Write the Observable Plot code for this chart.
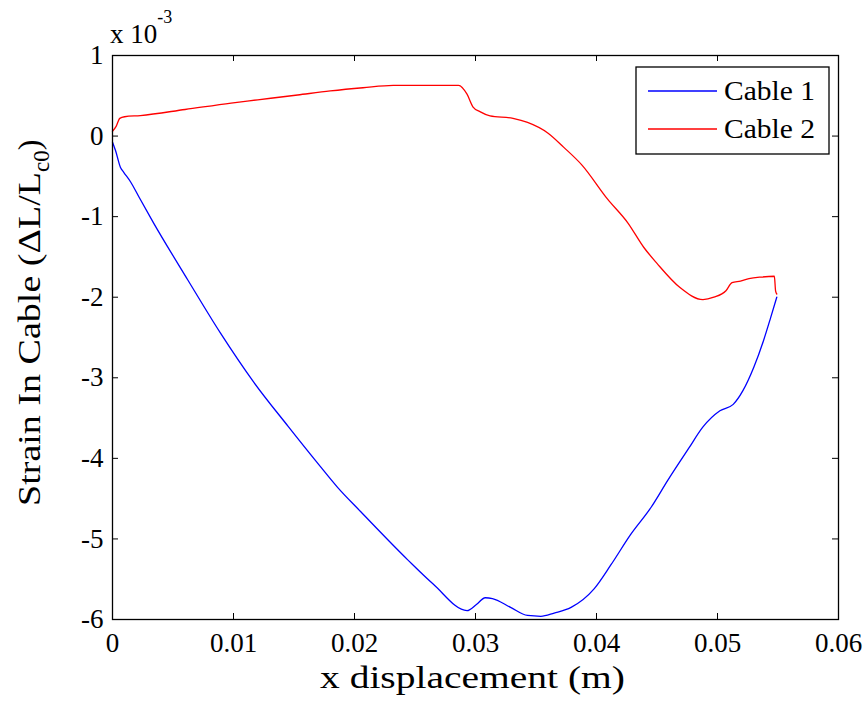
<!DOCTYPE html>
<html>
<head>
<meta charset="utf-8">
<script src="https://cdn.jsdelivr.net/npm/d3@7"></script>
<script src="https://cdn.jsdelivr.net/npm/@observablehq/plot@0.6"></script>
<style>
  html, body { margin: 0; padding: 0; background: #fff; }
  #chart { width: 867px; height: 703px; }
</style>
</head>
<body>
<div id="chart"></div>
<script>
// ---- data (x in m, strain in units of 1e-3) ----
const cable1X = [0, 0.00025, 0.00066, 0.00093, 0.0015, 0.0022, 0.0034, 0.0062, 0.0089, 0.0117, 0.0145, 0.0169, 0.0186, 0.0205, 0.0244, 0.0265, 0.0293, 0.0301, 0.0308, 0.0314, 0.0329, 0.0343, 0.0354, 0.0365, 0.0379, 0.0398, 0.0412, 0.0428, 0.0445, 0.0459, 0.0476, 0.0488, 0.0502, 0.0513, 0.0521, 0.0530, 0.0538, 0.0544, 0.0549];
const cable1Y = [-0.075, -0.18, -0.39, -0.45, -0.57, -0.76, -1.08, -1.78, -2.44, -3.06, -3.60, -4.05, -4.36, -4.66, -5.26, -5.56, -5.89, -5.81, -5.73, -5.74, -5.85, -5.95, -5.96, -5.92, -5.85, -5.62, -5.32, -4.95, -4.61, -4.27, -3.88, -3.61, -3.41, -3.33, -3.16, -2.87, -2.54, -2.25, -2.00];

const cable2X = [0, 0.0003, 0.0006, 0.0010, 0.0023, 0.0060, 0.0098, 0.0120, 0.0153, 0.0180, 0.0207, 0.0232, 0.0286, 0.0293, 0.0298, 0.0304, 0.0312, 0.0331, 0.0343, 0.0360, 0.0373, 0.0388, 0.0409, 0.0426, 0.0439, 0.0450, 0.0469, 0.0488, 0.0497, 0.0507, 0.0512, 0.0519, 0.0526, 0.0536, 0.0547, 0.0548, 0.0549];
const cable2Y = [0.06, 0.12, 0.22, 0.24, 0.255, 0.33, 0.41, 0.45, 0.51, 0.56, 0.60, 0.63, 0.63, 0.52, 0.36, 0.30, 0.25, 0.22, 0.17, 0.036, -0.14, -0.36, -0.78, -1.08, -1.38, -1.58, -1.88, -2.03, -2.00, -1.92, -1.82, -1.80, -1.77, -1.75, -1.74, -1.92, -1.96];

const seriesNames = ["Cable 1", "Cable 2"];
const seriesColors = ["#0000ff", "#ff0000"];

const xTicks = [0, 0.01, 0.02, 0.03, 0.04, 0.05, 0.06];
const xTickLabels = ["0", "0.01", "0.02", "0.03", "0.04", "0.05", "0.06"];
const yTicks = [1, 0, -1, -2, -3, -4, -5, -6];
const yTickLabels = ["1", "0", "-1", "-2", "-3", "-4", "-5", "-6"];

const xLabel = "x displacement (m)";
const yLabelMain = "Strain In Cable (\u0394L/L";
const yLabelSub = "c0";
const yLabelEnd = ")";
const exponentBase = "x 10";
const exponentSup = "-3";

// ---- build table ----
const rows = [];
cable1X.forEach((x, i) => rows.push({series: seriesNames[0], x, y: cable1Y[i]}));
cable2X.forEach((x, i) => rows.push({series: seriesNames[1], x, y: cable2Y[i]}));

const W = 867, H = 703;
const mL = 112, mR = 29, mT = 55, mB = 84;
const xDom = [0, 0.06], yDom = [-6, 1];
const tickPx = 6;
const xLen = tickPx * (xDom[1] - xDom[0]) / (W - mL - mR);
const yLen = tickPx * (yDom[1] - yDom[0]) / (H - mT - mB);

const font = "'Liberation Serif', 'Times New Roman', serif";

const svg = Plot.plot({
  width: W, height: H,
  marginLeft: mL, marginRight: mR, marginTop: mT, marginBottom: mB,
  style: {fontFamily: font, fontSize: "27px", color: "#000", background: "#fff"},
  x: {domain: xDom, label: null},
  y: {domain: yDom, label: null},
  color: {domain: seriesNames, range: seriesColors},
  marks: [
    Plot.axisX({ticks: xTicks, tickFormat: (d) => xTickLabels[xTicks.indexOf(d)], tickSize: 0, tickPadding: 13, fontSize: 27, label: null}),
    Plot.axisY({ticks: yTicks, tickFormat: (d) => yTickLabels[yTicks.indexOf(d)], tickSize: 0, tickPadding: 9, fontSize: 27, label: null}),
    // inward tick marks on all four sides
    Plot.ruleX(xTicks, {x: d => d, y1: yDom[0], y2: yDom[0] + yLen, stroke: "#000", strokeWidth: 1}),
    Plot.ruleX(xTicks, {x: d => d, y1: yDom[1], y2: yDom[1] - yLen, stroke: "#000", strokeWidth: 1}),
    Plot.ruleY(yTicks, {y: d => d, x1: xDom[0], x2: xDom[0] + xLen, stroke: "#000", strokeWidth: 1}),
    Plot.ruleY(yTicks, {y: d => d, x1: xDom[1], x2: xDom[1] - xLen, stroke: "#000", strokeWidth: 1}),
    Plot.line(rows, {x: "x", y: "y", z: "series", stroke: "series", strokeWidth: 1.3, curve: "monotone-x"}),
    Plot.frame({stroke: "#000", strokeWidth: 1.3})
  ]
});

document.getElementById("chart").appendChild(svg);

const s = d3.select(svg);

// x-axis label
s.append("text")
  .attr("x", 320).attr("y", 688)
  .attr("text-anchor", "start")
  .attr("textLength", 305).attr("lengthAdjust", "spacingAndGlyphs")
  .attr("font-family", font).attr("font-size", 32).attr("fill", "#000")
  .text(xLabel);

// exponent label
const ex = s.append("text")
  .attr("x", 110).attr("y", 43)
  .attr("text-anchor", "start")
  .attr("font-family", font).attr("font-size", 27).attr("fill", "#000");
ex.append("tspan").text(exponentBase);
ex.append("tspan").attr("font-size", 18).attr("dy", -20).text(exponentSup);

// y-axis label with subscript
const yl = s.append("text")
  .attr("transform", "translate(40,506) rotate(-90)")
  .attr("text-anchor", "start")
  .attr("font-family", font).attr("font-size", 32).attr("fill", "#000");
yl.append("tspan").attr("textLength", 334).attr("lengthAdjust", "spacingAndGlyphs").text(yLabelMain);
yl.append("tspan").attr("font-size", 23).attr("dy", 9).text(yLabelSub);
yl.append("tspan").attr("dy", -9).text(yLabelEnd);

// legend
const lg = s.append("g");
lg.append("rect").attr("x", 636).attr("y", 67).attr("width", 193).attr("height", 87)
  .attr("fill", "#fff").attr("stroke", "#000").attr("stroke-width", 1.3);
seriesNames.forEach((name, i) => {
  const cy = 91 + i * 38;
  lg.append("line").attr("x1", 648).attr("x2", 717).attr("y1", cy).attr("y2", cy)
    .attr("stroke", seriesColors[i]).attr("stroke-width", 1.3);
  lg.append("text").attr("x", 724).attr("y", cy + 9)
    .attr("text-anchor", "start")
    .attr("textLength", 91).attr("lengthAdjust", "spacingAndGlyphs")
    .attr("font-family", font).attr("font-size", 27).attr("fill", "#000").text(name);
});
</script>
</body>
</html>
